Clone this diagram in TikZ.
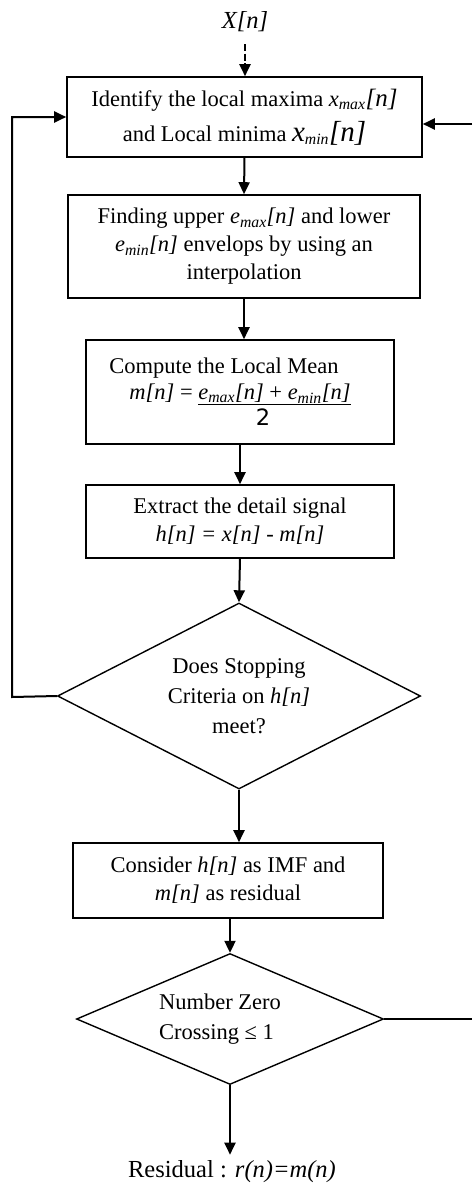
\documentclass[tikz,border=0pt]{standalone}
\usepackage{fontspec}
\setmainfont{Liberation Serif}
\newfontfamily\sansnum{DejaVu Sans}
\usetikzlibrary{shapes.geometric,arrows.meta}
\newcommand{\bigtxt}[1]{{\fontsize{29}{34}\selectfont #1}}
\newcommand{\midtxt}[1]{{\fontsize{25}{34}\selectfont #1}}
\begin{document}
\begin{tikzpicture}[x=1pt,y=-1pt,
  box/.style={draw,line width=1.6pt,inner sep=0pt,align=center,font=\fontsize{22.5}{28}\selectfont},
  dec/.style={draw,diamond,line width=1.4pt,inner sep=0pt,align=center,font=\fontsize{22.5}{30}\selectfont},
  arr/.style={line width=2pt,-{Triangle[length=12pt,width=11pt]}},
  ln/.style={line width=1.6pt},
  lbl/.style={font=\fontsize{24.5}{28}\selectfont}]
\useasboundingbox (0,0) rectangle (472,1184);

\node[lbl] (xin) at (245,22) {\textit{X[n]}};
\node[box,minimum width=355pt,minimum height=80pt,font=\fontsize{22.5}{35}\selectfont] (b1) at (244.5,117)
  {Identify the local maxima \textit{x}\textsubscript{\textit{max}}\midtxt{\textit{[n]}}\\
   and Local minima \bigtxt{\textit{x}}\textsubscript{\textit{min}}\bigtxt{\textit{[n]}}};
\node[box,minimum width=352pt,minimum height=103pt] (b2) at (244,246.5)
  {Finding upper \textit{e}\textsubscript{\textit{max}}\textit{[n]} and lower\\
   \textit{e}\textsubscript{\textit{min}}\textit{[n]} envelops by using an\\
   interpolation};
\node[box,minimum width=308pt,minimum height=104pt,font=\fontsize{22.5}{26}\selectfont] (b3) at (240,392)
  {Compute the Local Mean\hspace*{32pt}\\
   \textit{m[n]} = \underline{\textit{e}\textsubscript{\textit{max}}\textit{[n]} + \textit{e}\textsubscript{\textit{min}}\textit{[n]}}\\
   \hspace*{46pt}{\sansnum 2}};
\node[box,minimum width=308pt,minimum height=73pt] (b4) at (240,521.5)
  {Extract the detail signal\\ \textit{h[n] = x[n] - m[n]}};
\node[dec,aspect=1.95,minimum width=363pt,minimum height=186pt] (d1) at (239,696)
  {Does Stopping\\ Criteria on \textit{h[n]}\\ meet?};
\node[box,minimum width=310pt,minimum height=75pt] (b5) at (228,880.5)
  {Consider \textit{h[n]} as IMF and\\ \textit{m[n]} as residual};
\node[dec,aspect=2.34,minimum width=307pt,minimum height=131pt,align=left] (d2) at (230,1019)
  {Number Zero\hspace*{20pt}\\ Crossing ≤ 1};
\node[lbl,inner sep=6pt] (res) at (232,1172) {Residual : \textit{r(n)=m(n)}};

\coordinate (lx) at (12,697);
\coordinate (rin) at (472,124);
\coordinate (rout) at (472,1019);

\draw[arr,dash pattern=on 7pt off 2.5pt] (xin.south |- 0,44) -- (xin.south |- b1.north);
\draw[arr] (b1.south) -- (b2.north);
\draw[arr] (b2.south) -- (b2.south |- b3.north);
\draw[arr] (b3.south) -- (b4.north);
\draw[arr] (b4.south) -- (d1.north);
\draw[arr] (d1.south) -- (d1.south |- b5.north);
\draw[arr] (d2.north |- b5.south) -- (d2.north);
\draw[arr] (d2.south) -- (d2.south |- res.north);
\draw[arr] (d1.west) -- (lx) -- (lx |- b1.west) -- (b1.west);
\draw[arr] (rin) -- (rin -| b1.east);
\draw[ln] (d2.east) -- (rout);
\end{tikzpicture}
\end{document}
